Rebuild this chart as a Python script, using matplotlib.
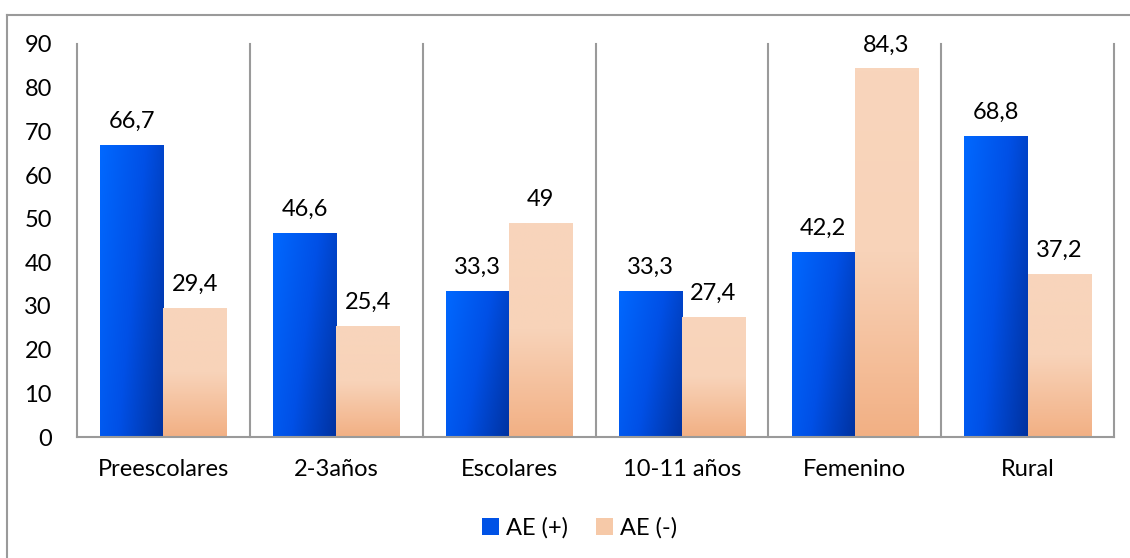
import numpy as np
import matplotlib
matplotlib.use("Agg")
import matplotlib.pyplot as plt
from matplotlib.colors import LinearSegmentedColormap
from matplotlib.patches import Patch
from matplotlib.lines import Line2D

plt.rcParams['font.family'] = ['Lato', 'DejaVu Sans']

categorias = ['Preescolares', '2-3años', 'Escolares', '10-11 años', 'Femenino', 'Rural']
ae_pos = [66.7, 46.6, 33.3, 33.3, 42.2, 68.8]
ae_neg = [29.4, 25.4, 49, 27.4, 84.3, 37.2]
etiquetas_pos = ['66,7', '46,6', '33,3', '33,3', '42,2', '68,8']
etiquetas_neg = ['29,4', '25,4', '49', '27,4', '84,3', '37,2']
series = ['AE (+)', 'AE (-)']

gris = '#9a9a9a'
fs = 17
azul = LinearSegmentedColormap.from_list('azul', ['#0068ff', '#0050e6', '#0032a0'])
durazno = LinearSegmentedColormap.from_list('durazno', [(0, '#f8d5bc'), (0.5, '#f8d3b9'), (1, '#f2b084')])

fig = plt.figure(figsize=(11.3, 5.58), dpi=100)
ax = fig.add_axes([77 / 1130, 121 / 558, 1037 / 1130, 393 / 558])

ancho = 0.365
off = 0.1825

# gradiente diagonal para las barras azules (fila 0 = arriba)
gx, gy = np.meshgrid(np.linspace(0, 1, 60), np.linspace(0, 1, 120))
grad_azul = (gx * 1.0 + gy * 0.45) / 1.45
# gradiente vertical para las barras color durazno (claro arriba, oscuro abajo)
grad_dur = np.repeat(np.linspace(0, 1, 120)[:, None], 2, axis=1)

for i in range(len(categorias)):
    x0 = i + 0.5 - off - ancho / 2
    ax.imshow(grad_azul, cmap=azul, vmin=0, vmax=1, aspect='auto',
              extent=(x0, x0 + ancho, 0, ae_pos[i]), origin='upper',
              interpolation='bilinear', zorder=2)
    x1 = i + 0.5 + off - ancho / 2
    ax.imshow(grad_dur, cmap=durazno, vmin=0, vmax=1, aspect='auto',
              extent=(x1, x1 + ancho, 0, ae_neg[i]), origin='upper',
              interpolation='bilinear', zorder=2)
    ax.text(i + 0.5 - off, ae_pos[i] + 4.0, etiquetas_pos[i], ha='center', va='baseline',
            fontsize=fs, color='black')
    ax.text(i + 0.5 + off, ae_neg[i] + 4.0, etiquetas_neg[i], ha='center', va='baseline',
            fontsize=fs, color='black')

# separadores verticales entre categorias
for k in range(len(categorias) + 1):
    ax.plot([k, k], [0, 90], color=gris, lw=1.5, zorder=3, clip_on=False)

ax.set_xlim(0, len(categorias))
ax.set_ylim(0, 90)
ax.set_yticks(np.arange(0, 91, 10))
ax.set_xticks(np.arange(len(categorias)) + 0.5)
ax.set_xticklabels(categorias, fontsize=fs)
ax.tick_params(axis='y', labelsize=fs, length=0, pad=18)
ax.tick_params(axis='x', length=0, pad=16)
for lado in ['top', 'right', 'left']:
    ax.spines[lado].set_visible(False)
ax.spines['bottom'].set_color(gris)
ax.spines['bottom'].set_linewidth(1.5)
ax.spines['bottom'].set_zorder(4)

handles = [Patch(facecolor='#0052e6', edgecolor='none'),
           Patch(facecolor='#f6c9a8', edgecolor='none')]
fig.legend(handles, series, loc='center', bbox_to_anchor=(0.513, 0.054), ncol=2,
           frameon=False, fontsize=fs, handlelength=0.7, handleheight=0.7,
           handletextpad=0.3, columnspacing=1.2)

# borde exterior del grafico
fig.add_artist(Line2D([7 / 1130, 1.0], [1 - 15 / 558, 1 - 15 / 558],
                      transform=fig.transFigure, color=gris, lw=1.5))
fig.add_artist(Line2D([7 / 1130, 7 / 1130], [0, 1 - 15 / 558],
                      transform=fig.transFigure, color=gris, lw=1.5))

fig.savefig('out.png', dpi=100)
